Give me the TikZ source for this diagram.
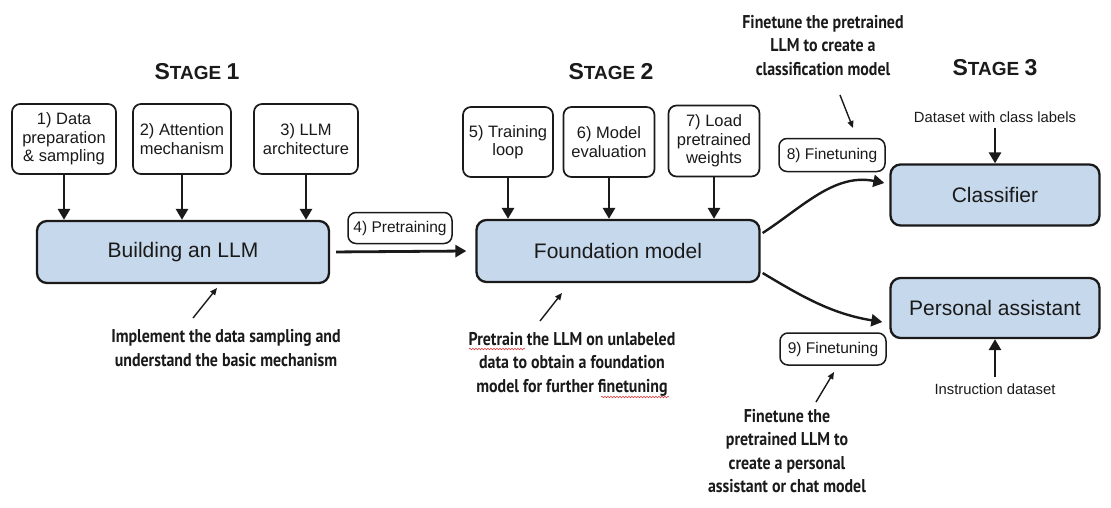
\documentclass[tikz,border=0pt]{standalone}
\usepackage{fontspec}
\usepackage{graphicx}
\setmainfont{Liberation Sans}
\newfontfamily\annotfont{PT Sans}
\usetikzlibrary{arrows.meta,calc,decorations.pathmorphing}
\definecolor{boxblue}{HTML}{C6D8EB}
\definecolor{ink}{HTML}{1A1A1A}
\definecolor{spellred}{HTML}{E04040}
\newcommand{\notetext}[1]{\scalebox{0.86}[1]{\begin{tabular}{@{}c@{}}#1\end{tabular}}}
\newcommand{\stagetitle}[1]{{\bfseries\fontsize{23}{23}\selectfont S\fontsize{19}{19}\selectfont TAGE \fontsize{23}{23}\selectfont #1}}
\begin{document}
\begin{tikzpicture}[x=1pt,y=-1pt,
  stepbox/.style={draw=ink, line width=1.7pt, rounded corners=8pt, fill=white, align=center,
    font=\fontsize{16.5}{18.5}\selectfont, inner sep=1pt, text=ink},
  mainbox/.style={draw=ink, line width=2.3pt, rounded corners=10pt, fill=boxblue,
    font=\fontsize{21}{23}\selectfont, text=ink},
  tagbox/.style={draw=ink, line width=1.5pt, rounded corners=8pt, fill=white,
    font=\fontsize{15.5}{17}\selectfont, inner sep=1pt, text=ink},
  feed/.style={-{Triangle[length=11pt,width=12pt]}, line width=2.8pt, draw=ink},
  notearrow/.style={-{Triangle[length=7pt,width=6pt]}, line width=1.4pt, draw=ink},
  note/.style={font=\annotfont\bfseries\fontsize{18.5}{23.5}\selectfont, align=center, text=ink, inner sep=0pt},
  plain/.style={font=\fontsize{14.8}{17}\selectfont, text=ink, inner sep=0pt},
  stage/.style={text=ink, inner sep=0pt},
  spell/.style={draw=spellred, line width=0.6pt, decorate, decoration={snake, amplitude=0.8pt, segment length=3pt}}
]
\useasboundingbox (0,0) rectangle (1111,507);

% Stage titles
\node[stage] (s1) at (197,72) {\stagetitle{1}};
\node[stage] (s2) at (611,72) {\stagetitle{2}};
\node[stage] (s3) at (995,68) {\stagetitle{3}};

% Stage 1
\node[stepbox, minimum width=104pt, minimum height=70pt] (b1) at (64,139) {1) Data\\preparation\\\& sampling};
\node[stepbox, minimum width=98pt, minimum height=70pt] (b2) at (182,139) {2) Attention\\mechanism};
\node[stepbox, minimum width=104pt, minimum height=70pt] (b3) at (306,139) {3) LLM\\architecture};
\node[mainbox, minimum width=292pt, minimum height=62pt] (build) at (183,252) {Building an LLM};

\foreach \b in {b1,b2,b3}{
  \draw[feed] (\b.south) -- (\b.south |- build.north);
}

\node[note] (n1) at (226,350) {\notetext{Implement the data sampling and\\understand the basic mechanism}};
\coordinate (n1tail) at (193,318);
\coordinate (n1head) at (217,288);
\draw[notearrow] (n1tail) -- (n1head);

% Stage 2
\node[stepbox, minimum width=90pt, minimum height=70pt] (b5) at (508,142) {5) Training\\loop};
\node[stepbox, minimum width=91pt, minimum height=70pt] (b6) at (609,142) {6) Model\\evaluation};
\node[stepbox, minimum width=91pt, minimum height=71pt] (b7) at (714,141) {7) Load\\pretrained\\weights};
\node[mainbox, minimum width=283pt, minimum height=62pt] (found) at (618,251) {Foundation model};

\foreach \b in {b5,b6,b7}{
  \draw[feed] (\b.south) -- (\b.south |- found.north);
}

\draw[feed, shorten <=6pt] (build.east) -- ([xshift=-9pt]found.west);
\node[tagbox, minimum width=104pt, minimum height=31pt] (pre) at (400,228) {4) Pretraining};

\node[note] (n2) at (572,364) {\notetext{Pretrain the LLM on unlabeled\\data to obtain a foundation\\model for further finetuning}};
\coordinate (n2tail) at (540,321);
\coordinate (n2head) at (562,293);
\draw[notearrow] (n2tail) -- (n2head);
\draw[spell] (469,349) -- (525,349);
\draw[spell] (601,397) -- (669,397);

% Stage 3
\node[mainbox, minimum width=209pt, minimum height=61pt] (cls) at (995,195) {Classifier};
\node[mainbox, minimum width=209pt, minimum height=60pt] (pa) at (995,308) {Personal assistant};

\node[plain] (ds) at (995,117) {Dataset with class labels};
\draw[feed] ([yshift=-5pt]ds.south) -- (cls.north);
\node[plain] (ins) at (995,389) {Instruction dataset};
\draw[feed] ([yshift=6pt]ins.north) -- (pa.south);

\coordinate (fa) at ($(found.east)+(2,-18)$);
\coordinate (fb) at ($(found.east)+(2,22)$);
\coordinate (ca) at ($(cls.west)+(-5,-12)$);
\coordinate (pb) at ($(pa.west)+(-7,14)$);
\draw[feed, line width=2.4pt] (fa) .. controls ($(fa)+(40,-26)$) and ($(ca)+(-50,-10)$) .. (ca);
\draw[feed, line width=2.4pt] (fb) .. controls ($(fb)+(40,24)$) and ($(pb)+(-50,-8)$) .. (pb);

\node[tagbox, minimum width=106pt, minimum height=33pt] (f8) at (832,155) {8) Finetuning};
\node[tagbox, minimum width=106pt, minimum height=32pt] (f9) at (833,349) {9) Finetuning};

\node[note] (n3) at (823,47) {\notetext{Finetune the pretrained\\LLM to create a\\classification model}};
\coordinate (n3tail) at (840,95);
\coordinate (n3head) at (853,128);
\draw[notearrow] (n3tail) -- (n3head);

\node[note] (n4) at (787,453) {\notetext{Finetune the\\pretrained LLM to\\create a personal\\assistant or chat model}};
\coordinate (n4tail) at (816,402);
\coordinate (n4head) at (834,372);
\draw[notearrow] (n4tail) -- (n4head);
\end{tikzpicture}
\end{document}
